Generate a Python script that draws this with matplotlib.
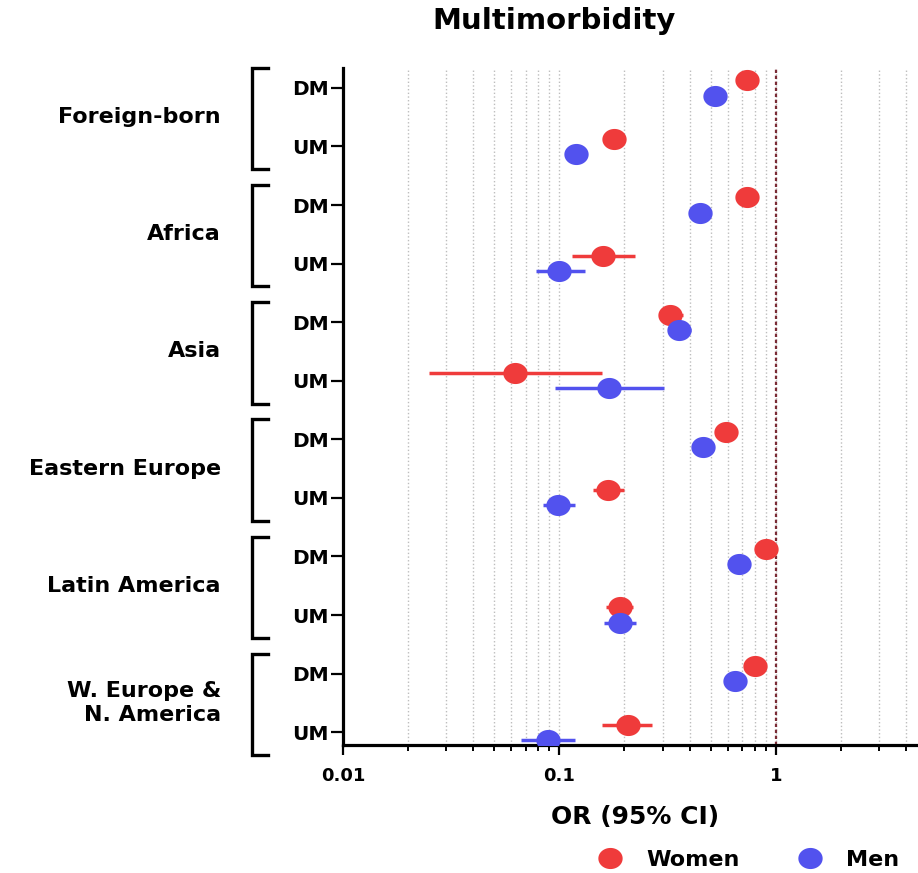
import numpy as np
import matplotlib
matplotlib.use("Agg")
import matplotlib.pyplot as plt
import matplotlib.transforms as mtransforms
from matplotlib.path import Path
from matplotlib.lines import Line2D
from matplotlib.ticker import LogLocator, NullFormatter, FixedLocator, FixedFormatter

# data
groups = ["Foreign-born", "Africa", "Asia", "Eastern Europe", "Latin America",
          "W. Europe &\nN. America"]
rows = ["DM", "UM"] * 6

women_or = [0.74, 0.178, 0.735, 0.159, 0.325, 0.0625, 0.589, 0.168, 0.904, 0.190, 0.798, 0.207]
women_lo = [0.71, 0.168, 0.70, 0.114, 0.290, 0.0249, 0.56, 0.143, 0.87, 0.164, 0.76, 0.158]
women_hi = [0.77, 0.189, 0.77, 0.223, 0.372, 0.157, 0.62, 0.200, 0.94, 0.220, 0.84, 0.269]

men_or = [0.525, 0.119, 0.449, 0.100, 0.356, 0.170, 0.463, 0.099, 0.676, 0.190, 0.649, 0.0883]
men_lo = [0.50, 0.112, 0.43, 0.078, 0.321, 0.0955, 0.44, 0.084, 0.65, 0.161, 0.62, 0.0667]
men_hi = [0.55, 0.127, 0.47, 0.131, 0.404, 0.306, 0.49, 0.118, 0.70, 0.225, 0.68, 0.118]

red = "#EF3B3B"
blue = "#5252EE"
FONT = "DejaVu Sans"
plt.rcParams["font.family"] = FONT
plt.rcParams["font.weight"] = "bold"

# slightly wide ellipse marker (the original is stretched horizontally)
t = np.linspace(0, 2 * np.pi, 60)
ell = Path(np.column_stack([1.15 * np.cos(t), np.sin(t)]), closed=True)
MS = 17.5

fig = plt.figure(figsize=(9.18, 8.73), dpi=100)
ax = fig.add_axes([0.3736, 0.1466, 0.6362, 0.7755])

n = len(rows)
ypos = np.arange(n)[::-1].astype(float)
off = 0.13

wo = np.array(women_or)
mo = np.array(men_or)
ax.errorbar(wo, ypos + off, xerr=[wo - np.array(women_lo), np.array(women_hi) - wo],
            fmt="none", ecolor=red, elinewidth=2.5, capsize=0, zorder=3)
ax.plot(wo, ypos + off, ls="none", marker=ell, ms=MS, color=red, mec="none", zorder=4)
ax.errorbar(mo, ypos - off, xerr=[mo - np.array(men_lo), np.array(men_hi) - mo],
            fmt="none", ecolor=blue, elinewidth=2.5, capsize=0, zorder=3)
ax.plot(mo, ypos - off, ls="none", marker=ell, ms=MS, color=blue, mec="none", zorder=4)

ax.axvline(1, color="#7a2b35", ls=(0, (1.5, 1.2)), lw=1.6, zorder=2)

ax.set_xscale("log")
ax.set_xlim(0.01, 5)
ax.set_ylim(-0.22, n - 1 + 0.34)

ax.xaxis.set_major_locator(FixedLocator([0.01, 0.1, 1]))
ax.xaxis.set_major_formatter(FixedFormatter(["0.01", "0.1", "1"]))
ax.xaxis.set_minor_locator(LogLocator(base=10, subs=np.arange(2, 10)))
ax.xaxis.set_minor_formatter(NullFormatter())
ax.grid(True, axis="x", which="both", ls=":", color="#bdbdbd", lw=1.0, zorder=0)

ax.set_yticks(ypos)
ax.set_yticklabels(rows)
ax.tick_params(axis="y", length=9, width=1.6, pad=1, labelsize=14.5)
ax.tick_params(axis="x", which="major", length=7, width=1.6, pad=9, labelsize=13)
ax.tick_params(axis="x", which="minor", length=4, width=1.4)

for s in ["top", "right"]:
    ax.spines[s].set_visible(False)
for s in ["left", "bottom"]:
    ax.spines[s].set_linewidth(2.3)

# group brackets and labels
tr = mtransforms.blended_transform_factory(ax.transAxes, ax.transData)
for g, name in enumerate(groups):
    y_dm = ypos[2 * g]
    y_um = ypos[2 * g + 1]
    top = y_dm + 0.34
    bot = y_um - 0.39
    ax.plot([-0.1284, -0.1558, -0.1558, -0.1284], [top, top, bot, bot],
            transform=tr, color="black", lw=2.4, clip_on=False,
            solid_joinstyle="miter")
    ax.text(-0.209, (y_dm + y_um) / 2, name, transform=tr, ha="right", va="center",
            multialignment="right", fontsize=16, fontweight="bold", linespacing=1.25)

ax.set_xlabel("OR (95% CI)", fontsize=18, fontweight="bold", labelpad=14)
fig.text(0.6035, 0.976, "Multimorbidity", ha="center", va="center",
         fontsize=21, fontweight="bold")

handles = [Line2D([], [], ls="none", marker=ell, ms=MS, color=red, mec="none"),
           Line2D([], [], ls="none", marker=ell, ms=MS, color=blue, mec="none")]
fig.legend(handles, ["Women", "Men"], loc="center", bbox_to_anchor=(0.81, 0.015),
           ncol=2, frameon=False, prop={"size": 16, "weight": "bold"},
           handletextpad=0.6, columnspacing=2.2)

fig.savefig("out.png", dpi=100)
